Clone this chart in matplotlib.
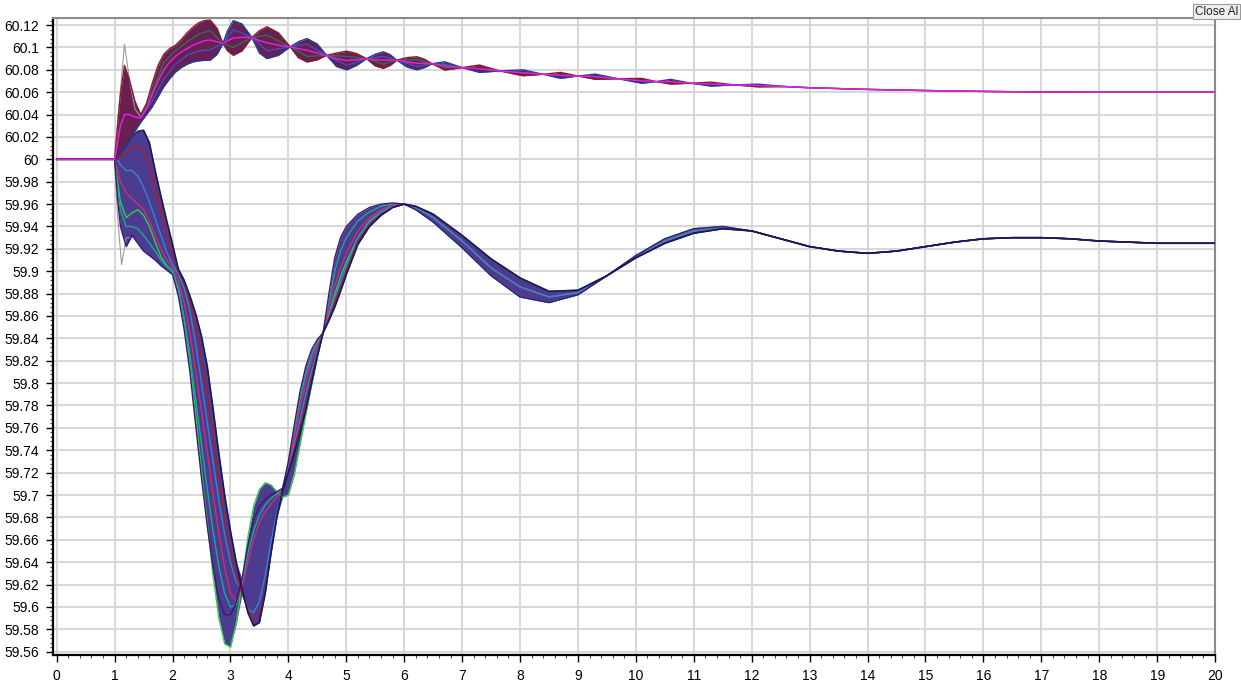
import matplotlib
matplotlib.use("Agg")
import matplotlib.pyplot as plt
from matplotlib.ticker import MultipleLocator, FuncFormatter
import numpy as np

# --- upper family (frequency rise) ---
t_up = [0, 1.0, 1.05, 1.1, 1.17, 1.25, 1.35, 1.45, 1.55, 1.65,
        1.75, 1.85, 1.95, 2.05, 2.15, 2.25, 2.35, 2.45, 2.55, 2.65,
        2.77, 2.87, 2.95, 3.05, 3.2, 3.37, 3.5, 3.63, 3.83, 4.03,
        4.17, 4.32, 4.5, 4.66, 4.83, 5.01, 5.18, 5.35, 5.5, 5.64,
        5.76, 5.87, 6.05, 6.22, 6.35, 6.48, 6.7, 7.0, 7.3, 7.65,
        8.05, 8.4, 8.7, 9.0, 9.3, 9.7, 10.1, 10.35, 10.6, 10.95,
        11.3, 11.7, 12.1, 12.6, 13.0, 14.0, 15.0, 16.0, 17.0, 18.0,
        19.0, 20.0]

up_fast = [60.0, 60.0, 60.03, 60.058, 60.084, 60.072, 60.052, 60.04, 60.05, 60.068,
           60.084, 60.094, 60.099, 60.102, 60.107, 60.113, 60.118, 60.122, 60.124, 60.1245,
           60.117, 60.1036, 60.097, 60.093, 60.097, 60.109, 60.115, 60.1185, 60.113, 60.1006,
           60.091, 60.087, 60.089, 60.093, 60.095, 60.0967, 60.0945, 60.090, 60.0835, 60.0813,
           60.084, 60.0887, 60.091, 60.0917, 60.0895, 60.0855, 60.0798, 60.082, 60.0843, 60.079,
           60.0747, 60.076, 60.0777, 60.0745, 60.0715, 60.072, 60.0724, 60.0695, 60.0673, 60.068,
           60.069, 60.0665, 60.0648, 60.065, 60.064, 60.0625, 60.0615, 60.0607, 60.0602, 60.060,
           60.060, 60.060]

up_slow = [60.0, 60.0, 60.002, 60.005, 60.01, 60.016, 60.025, 60.033, 60.04, 60.047,
           60.056, 60.065, 60.072, 60.078, 60.082, 60.085, 60.087, 60.088, 60.0885, 60.0886,
           60.094, 60.1036, 60.115, 60.124, 60.121, 60.109, 60.095, 60.090, 60.093, 60.1006,
           60.105, 60.108, 60.103, 60.093, 60.083, 60.080, 60.084, 60.090, 60.094, 60.0961,
           60.0935, 60.0887, 60.0825, 60.080, 60.082, 60.0855, 60.0872, 60.082, 60.0777, 60.079,
           60.080, 60.076, 60.0724, 60.0745, 60.0762, 60.072, 60.068, 60.0695, 60.0715, 60.068,
           60.0655, 60.0665, 60.0672, 60.065, 60.064, 60.0625, 60.0615, 60.0607, 60.0602, 60.060,
           60.060, 60.060]

up_mid = [60.0, 60.0, 60.015, 60.03, 60.04, 60.04, 60.038, 60.037, 60.045, 60.058,
          60.07, 60.08, 60.087, 60.092, 60.096, 60.099, 60.102, 60.104, 60.106, 60.1066,
          60.105, 60.1036, 60.106, 60.1085, 60.109, 60.109, 60.106, 60.1043, 60.102, 60.1006,
          60.099, 60.0975, 60.095, 60.093, 60.09, 60.0884, 60.089, 60.090, 60.089, 60.0887,
          60.0887, 60.0887, 60.087, 60.0859, 60.0857, 60.0855, 60.0835, 60.082, 60.081, 60.079,
          60.0774, 60.076, 60.075, 60.0745, 60.0739, 60.072, 60.0702, 60.0695, 60.0694, 60.068,
          60.0673, 60.0665, 60.066, 60.065, 60.064, 60.0625, 60.0615, 60.0607, 60.0602, 60.060,
          60.060, 60.060]

# two inner traces of the upper bundle (smaller swing)
t_up_inner = [1.45, 1.65, 1.85, 2.05, 2.25, 2.45, 2.65, 2.87, 3.05, 3.37,
              3.63, 4.03, 4.32, 4.66, 5.01, 5.35, 5.64, 5.87, 6.22, 6.48,
              6.7, 7.0]
up_inner_a = [60.038, 60.06, 60.087, 60.097, 60.105, 60.112, 60.115, 60.1036, 60.1, 60.109,
              60.111, 60.1006, 60.092, 60.093, 60.092, 60.09, 60.085, 60.0887, 60.089, 60.0855,
              60.082, 60.082]
up_inner_b = [60.038, 60.052, 60.072, 60.085, 60.093, 60.097, 60.098, 60.1036, 60.116, 60.109,
              60.097, 60.1006, 60.103, 60.093, 60.084, 60.09, 60.092, 60.0887, 60.083, 60.0855,
              60.085, 60.082]

t_spike = [1.0, 1.08, 1.17, 1.26, 1.35, 1.45]
up_spike = [60.0, 60.05, 60.103, 60.07, 60.045, 60.038]

# --- lower family (frequency dip) ---
t_low_head = [0, 1.0, 1.05, 1.1, 1.2, 1.3, 1.4, 1.5, 1.6, 1.7,
              1.8, 1.9, 2.0, 2.1, 2.2, 2.3, 2.4, 2.5, 2.6, 2.7,
              2.8, 2.9, 3.0, 3.1, 3.2, 3.3, 3.4, 3.5, 3.6, 3.7,
              3.8, 3.9, 4.0, 4.1, 4.2, 4.3, 4.4, 4.5, 4.6, 4.7,
              4.8, 4.9, 5.0, 5.2, 5.4, 5.6, 5.8, 6.0]
t_low_tail = [6.2, 6.5, 7.0, 7.5, 8.0, 8.5, 9.0, 9.5, 10.0, 10.5,
              11.0, 11.5, 12.0, 12.5, 13.0, 13.5, 14.0, 14.5, 15.0, 15.5,
              16.0, 16.5, 17.0, 17.5, 18.0, 19.0, 20.0]

low_early = [60.0, 60.0, 59.965, 59.94, 59.922, 59.932, 59.925, 59.918, 59.914, 59.91,
             59.905, 59.901, 59.897, 59.878, 59.848, 59.81, 59.762, 59.715, 59.672, 59.635,
             59.607, 59.593, 59.593, 59.604, 59.625, 59.655, 59.678, 59.69, 59.696, 59.70,
             59.703, 59.706, 59.73, 59.762, 59.792, 59.815, 59.83, 59.839, 59.845, 59.88,
             59.912, 59.93, 59.94, 59.951, 59.957, 59.96, 59.961, 59.96]
low_late = [60.0, 60.0, 60.002, 60.005, 60.012, 60.02, 60.025, 60.026, 60.015, 59.99,
            59.967, 59.945, 59.924, 59.902, 59.892, 59.878, 59.862, 59.842, 59.815, 59.777,
            59.737, 59.70, 59.668, 59.64, 59.616, 59.595, 59.583, 59.586, 59.612, 59.648,
            59.68, 59.704, 59.72, 59.737, 59.755, 59.776, 59.80, 59.824, 59.845, 59.856,
            59.868, 59.882, 59.897, 59.924, 59.94, 59.95, 59.957, 59.96]
low_green = [60.0, 60.0, 59.98, 59.962, 59.948, 59.952, 59.955, 59.95, 59.94, 59.926,
             59.913, 59.905, 59.9, 59.885, 59.857, 59.818, 59.772, 59.722, 59.675, 59.628,
             59.59, 59.567, 59.564, 59.585, 59.622, 59.662, 59.69, 59.705, 59.711, 59.709,
             59.703, 59.698, 59.70, 59.718, 59.745, 59.772, 59.798, 59.823, 59.845, 59.862,
             59.879, 59.895, 59.908, 59.93, 59.945, 59.953, 59.958, 59.96]
low_teal = [60.0, 60.0, 59.975, 59.955, 59.94, 59.94, 59.938, 59.932, 59.925, 59.918,
            59.91, 59.904, 59.9, 59.884, 59.858, 59.825, 59.785, 59.745, 59.705, 59.668,
            59.636, 59.612, 59.600, 59.602, 59.62, 59.648, 59.668, 59.682, 59.691, 59.697,
            59.701, 59.705, 59.728, 59.757, 59.785, 59.808, 59.825, 59.837, 59.845, 59.873,
            59.9, 59.918, 59.93, 59.945, 59.953, 59.958, 59.96, 59.96]
low_m1 = [60.0, 60.0, 59.99, 59.98, 59.97, 59.965, 59.96, 59.955, 59.945, 59.932,
          59.92, 59.91, 59.903, 59.892, 59.872, 59.845, 59.81, 59.775, 59.738, 59.70,
          59.665, 59.635, 59.612, 59.605, 59.618, 59.64, 59.66, 59.675, 59.685, 59.692,
          59.698, 59.705, 59.726, 59.752, 59.778, 59.80, 59.82, 59.834, 59.845, 59.866,
          59.887, 59.903, 59.916, 59.936, 59.948, 59.955, 59.959, 59.96]
low_m2 = [60.0, 60.0, 60.0, 59.995, 59.99, 59.99, 59.985, 59.975, 59.962, 59.947,
          59.932, 59.917, 59.906, 59.897, 59.885, 59.865, 59.835, 59.80, 59.765, 59.73,
          59.695, 59.665, 59.64, 59.622, 59.615, 59.598, 59.595, 59.605, 59.628, 59.658,
          59.684, 59.705, 59.723, 59.745, 59.767, 59.79, 59.81, 59.829, 59.845, 59.86,
          59.876, 59.89, 59.904, 59.93, 59.944, 59.953, 59.958, 59.96]
low_m3 = [60.0, 60.0, 60.0, 60.002, 60.006, 60.01, 60.012, 60.008, 59.995, 59.975,
          59.955, 59.935, 59.915, 59.9, 59.89, 59.873, 59.85, 59.822, 59.79, 59.753,
          59.715, 59.68, 59.65, 59.628, 59.612, 59.598, 59.588, 59.592, 59.615, 59.648,
          59.68, 59.704, 59.721, 59.741, 59.761, 59.782, 59.805, 59.826, 59.845, 59.858,
          59.872, 59.886, 59.9, 59.927, 59.942, 59.951, 59.957, 59.96]

tail_early = [59.955, 59.944, 59.921, 59.896, 59.877, 59.872, 59.879, 59.896, 59.914, 59.929,
              59.938, 59.940, 59.936, 59.929, 59.922, 59.918, 59.916, 59.918, 59.922, 59.926,
              59.929, 59.930, 59.930, 59.929, 59.927, 59.925, 59.925]
tail_mid = [59.957, 59.948, 59.927, 59.903, 59.886, 59.877, 59.881, 59.896, 59.913, 59.927,
            59.936, 59.939, 59.936, 59.929, 59.922, 59.918, 59.916, 59.918, 59.922, 59.926,
            59.929, 59.930, 59.930, 59.929, 59.927, 59.925, 59.925]
tail_late = [59.958, 59.951, 59.932, 59.911, 59.894, 59.882, 59.883, 59.896, 59.912, 59.925,
             59.934, 59.938, 59.936, 59.929, 59.922, 59.918, 59.916, 59.918, 59.922, 59.926,
             59.929, 59.930, 59.930, 59.929, 59.927, 59.925, 59.925]

t_grey = [1.0, 1.05, 1.12, 1.2, 1.3]
low_grey = [60.0, 59.95, 59.906, 59.93, 59.93]

x_ticks = list(range(0, 21))
y_ticks = [round(59.56 + 0.02 * i, 2) for i in range(29)]


fig = plt.figure(figsize=(12.41, 6.83), dpi=100)
ax = fig.add_axes([0.0427, 0.041, 0.9364, 0.9326])

t_low = np.array(t_low_head + t_low_tail)
lows = {
    "early": np.array(low_early + tail_early),
    "late": np.array(low_late + tail_late),
    "green": np.array(low_green + tail_mid),
    "teal": np.array(low_teal + tail_early),
    "m1": np.array(low_m1 + tail_mid),
    "m2": np.array(low_m2 + tail_mid),
    "m3": np.array(low_m3 + tail_late),
}
stack = np.vstack(list(lows.values()))
ax.fill_between(t_low, stack.min(axis=0), stack.max(axis=0),
                color="#4d3b8f", lw=0, zorder=2)

ups = np.vstack([up_fast, up_slow, up_mid])
ax.fill_between(t_up, ups.min(axis=0), ups.max(axis=0),
                color="#682052", lw=0, zorder=2)

# individual traces
ax.plot(t_grey, low_grey, color="#9a9a9a", lw=0.8, zorder=3)
ax.plot(t_spike, up_spike, color="#9a9a9a", lw=0.8, zorder=3)
ax.plot(t_low, lows["green"], color="#2bd14a", lw=1.0, zorder=4)
ax.plot(t_low, lows["teal"], color="#19a8a0", lw=1.0, zorder=4)
ax.plot(t_low, lows["m1"], color="#c8306e", lw=1.0, zorder=4)
ax.plot(t_low, lows["m2"], color="#2f86d6", lw=1.0, zorder=4)
ax.plot(t_low, lows["m3"], color="#a82020", lw=1.0, zorder=4)
ax.plot(t_low, lows["early"], color="#3a1a70", lw=1.0, zorder=4)
ax.plot(t_low, lows["late"], color="#141a5e", lw=1.2, zorder=4)

ax.plot(t_up_inner, up_inner_a, color="#2a7a45", lw=0.9, zorder=4)
ax.plot(t_up_inner, up_inner_b, color="#3a55d0", lw=0.9, zorder=4)
ax.plot(t_up, up_slow, color="#1c3f9e", lw=1.0, zorder=4)
ax.plot(t_up, up_fast, color="#8b1a2b", lw=1.0, zorder=4)
ax.plot(t_up, up_mid, color="#e020e0", lw=1.1, zorder=5)

ax.set_xlim(-0.064, 20)
ax.set_ylim(59.557, 60.1263)
ax.set_xticks(x_ticks)
ax.set_yticks(y_ticks)
ax.xaxis.set_minor_locator(MultipleLocator(0.2))
ax.yaxis.set_minor_locator(MultipleLocator(0.004))
ax.yaxis.set_major_formatter(FuncFormatter(lambda v, p: f"{v:.2f}".rstrip("0").rstrip(".")))

ax.grid(True, which="major", color="#d4d4d4", lw=1.3, zorder=0)
ax.set_axisbelow(True)

for s in ("left", "bottom"):
    ax.spines[s].set_color("black")
    ax.spines[s].set_linewidth(1.6)
for s in ("top", "right"):
    ax.spines[s].set_color("#8a8a8a")
    ax.spines[s].set_linewidth(1.5)

ax.tick_params(which="major", length=5, width=1, color="black", pad=5,
               labelsize=10, labelfontfamily="Liberation Sans")
ax.tick_params(which="minor", length=2.5, width=0.8, color="#444444")

fig.text(0.963, 0.983, "Close Al", fontsize=8.5, family="Liberation Sans",
         color="#222222", va="center", ha="left",
         bbox=dict(boxstyle="square,pad=0.15", fc="#f0f0f0", ec="#9a9a9a", lw=0.8))

fig.savefig("out.png", dpi=100)
plt.close(fig)
